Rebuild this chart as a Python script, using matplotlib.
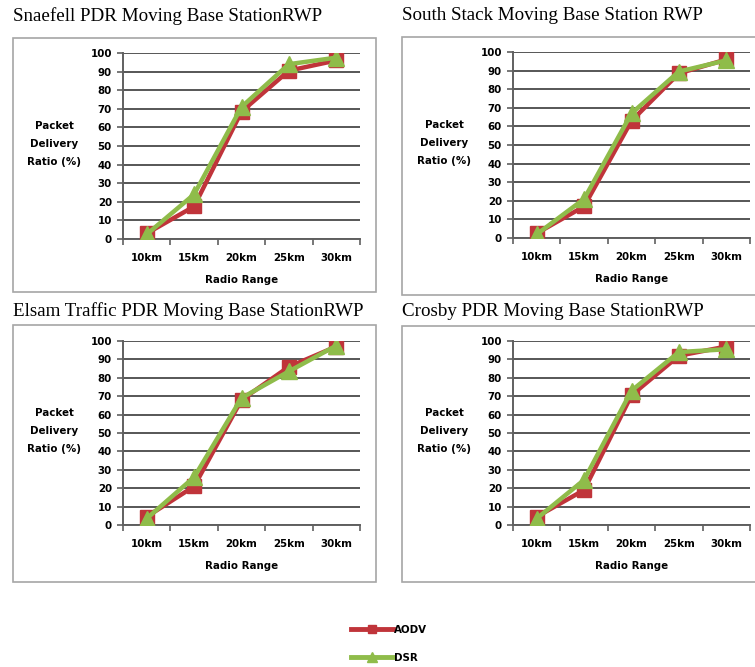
import matplotlib
matplotlib.use('Agg')
import matplotlib.pyplot as plt
from matplotlib.patches import Rectangle
from matplotlib.lines import Line2D

ranges = ['10km', '15km', '20km', '25km', '30km']
titles = ['Snaefell PDR Moving Base StationRWP',
          'South Stack Moving Base Station RWP',
          'Elsam Traffic PDR Moving Base StationRWP',
          'Crosby PDR Moving Base StationRWP']

# packet delivery ratio (%) per panel
aodv_snaefell = [3, 17.5, 68.5, 90.5, 96]
dsr_snaefell = [2.5, 24, 71, 94, 97.5]
aodv_southstack = [2.5, 17, 63, 88.5, 96]
dsr_southstack = [2, 21, 67, 89.5, 95.5]
aodv_elsam = [4.5, 21, 68, 86, 97]
dsr_elsam = [3.5, 26, 69, 83.5, 97.5]
aodv_crosby = [4.5, 19, 70.5, 92, 97]
dsr_crosby = [3.5, 24.5, 73, 94, 95.5]

aodv = [aodv_snaefell, aodv_southstack, aodv_elsam, aodv_crosby]
dsr = [dsr_snaefell, dsr_southstack, dsr_elsam, dsr_crosby]

red = '#C0343A'
green = '#8FBC4A'
W, H = 755, 667
fs = 7.4

fig = plt.figure(figsize=(7.55, 6.67), dpi=100)

# pixel layout: (box left, box top, box right, box bottom, title y, plot left, plot top, plot right, plot bottom)
layout = [
    (13, 38, 376, 292, 16, 123, 53, 360, 239),
    (402, 37, 756, 295, 16, 513, 52, 750, 238),
    (13, 325, 376, 582, 311, 123, 341, 360, 525),
    (402, 326, 756, 582, 311, 513, 341, 750, 525),
]

for i in range(4):
    bl, bt, br, bb, ty, pl, pt, pr, pb = layout[i]
    fig.patches.append(Rectangle((bl / W, 1 - bb / H), (br - bl) / W, (bb - bt) / H,
                                 transform=fig.transFigure, facecolor='white',
                                 edgecolor='#A6A6A6', lw=1.2, zorder=-1))
    fig.text(bl / W, 1 - ty / H, titles[i], family='Liberation Serif', fontsize=13.7,
             va='center', ha='left')
    ax = fig.add_axes([pl / W, 1 - pb / H, (pr - pl) / W, (pb - pt) / H])
    ax.set_facecolor('none')
    x = range(len(ranges))
    ax.plot(x, aodv[i], color=red, lw=3.2, marker='s', ms=10.5, zorder=3)
    ax.plot(x, dsr[i], color=green, lw=3.2, marker='^', ms=11, zorder=4)
    ax.set_xlim(-0.5, 4.5)
    ax.set_ylim(0, 100)
    ax.set_yticks(range(0, 101, 10))
    ax.set_xticks(list(x))
    ax.set_xticklabels(ranges)
    ax.set_xticks([k - 0.5 for k in range(6)], minor=True)
    ax.tick_params(axis='x', which='major', length=0, pad=10)
    ax.tick_params(axis='x', which='minor', length=4, color='#606060', width=1.2)
    ax.tick_params(axis='y', length=4, color='#606060', width=1.2, pad=4)
    for lab in ax.get_xticklabels() + ax.get_yticklabels():
        lab.set_fontsize(fs)
        lab.set_fontweight('bold')
        lab.set_family('DejaVu Sans')
    ax.yaxis.grid(True, color='#3A3A3A', lw=1.2)
    ax.set_axisbelow(True)
    for s in ['top', 'right']:
        ax.spines[s].set_visible(False)
    for s in ['left', 'bottom']:
        ax.spines[s].set_color('#606060')
        ax.spines[s].set_linewidth(1.4)
    ax.set_xlabel('Radio Range', fontsize=fs, fontweight='bold', labelpad=9)
    ax.text(-0.29, 0.51, 'Packet\nDelivery\nRatio (%)', transform=ax.transAxes,
            fontsize=fs, fontweight='bold', ha='center', va='center', linespacing=2.0)

handles = [Line2D([], [], color=red, lw=3.5, marker='s', ms=6),
           Line2D([], [], color=green, lw=3.5, marker='^', ms=6.5)]
fig.legend(handles, ['AODV', 'DSR'], loc='center', bbox_to_anchor=(389 / W, 1 - 644 / H),
           frameon=False, prop={'size': fs, 'weight': 'bold'}, handlelength=4.1,
           handletextpad=0.1, labelspacing=1.75)

fig.savefig('out.png', dpi=100)
